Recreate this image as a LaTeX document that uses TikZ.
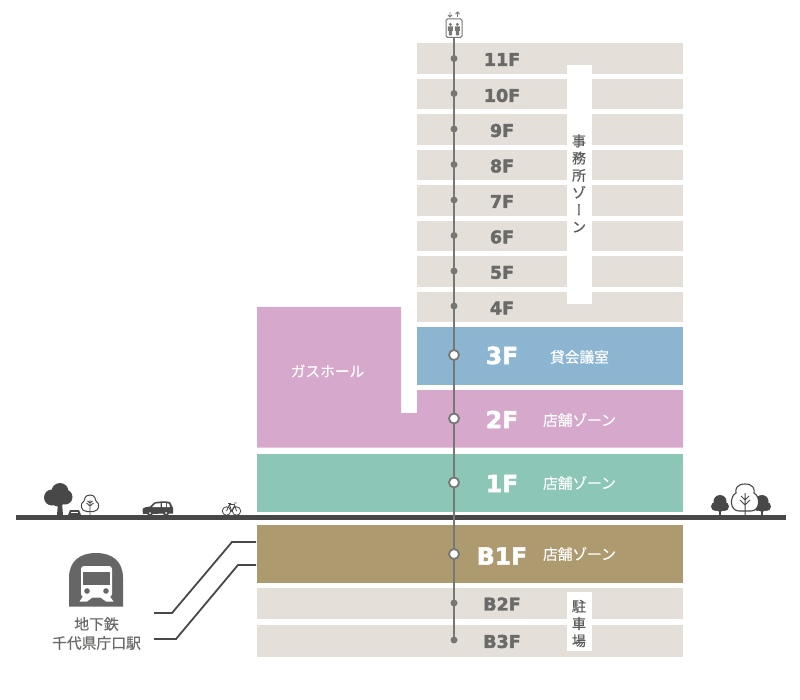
\documentclass[tikz,border=0pt]{standalone}
\usepackage{fontspec}
\usetikzlibrary{arrows.meta}
\setmainfont{Noto Sans CJK JP}[FakeBold=0.4]
\newfontfamily\floorfont{DejaVu Sans Bold}[FakeBold=2.2]
\newfontfamily\vertfont{Noto Sans CJK JP}[RawFeature=+vert,FakeBold=0.4]
\definecolor{beige}{HTML}{E5DFD9}
\definecolor{bluefl}{HTML}{8CB5D2}
\definecolor{pinkfl}{HTML}{D6A9CC}
\definecolor{tealfl}{HTML}{8BC6B7}
\definecolor{brownfl}{HTML}{AD9A6F}
\definecolor{liftgray}{HTML}{777775}
\definecolor{txtgray}{HTML}{6A6A68}
\definecolor{iconink}{HTML}{484848}
\definecolor{trainink}{HTML}{666666}
\tikzset{
  band/.style={rectangle,inner sep=0pt,minimum width=266pt,fill=#1,anchor=north west},
  whiteband/.style={rectangle,inner sep=0pt,minimum width=25pt,fill=white,anchor=north west},
  smallstop/.style={circle,inner sep=0pt,minimum size=7pt,fill=liftgray},
  bigstop/.style={circle,inner sep=0pt,minimum size=10pt,fill=white,draw=liftgray,line width=1.8pt},
  smallfl/.style={text=txtgray,font=\floorfont\fontsize{17.5}{19}\selectfont,inner sep=0pt},
  bigfl/.style={text=white,font=\floorfont\fontsize{23.5}{25}\selectfont,inner sep=0pt},
  zonew/.style={text=white,font=\fontsize{14.7}{16}\selectfont,inner sep=0pt},
  zoneg/.style={text=txtgray!85!black,align=center,font=\fontsize{14}{17.2}\selectfont,inner sep=0pt},
  stationtxt/.style={text=txtgray,align=center,font=\fontsize{14.8}{19}\selectfont,inner sep=0pt},
  conn/.style={draw=iconink,line width=1.8pt},
}
\begin{document}
\begin{tikzpicture}[x=1pt,y=-1pt]
\useasboundingbox (0,0) rectangle (800,700);
\fill[white] (0,0) rectangle (800,700);
% upper floors
\node[band=beige,minimum height=30.5pt] (b11) at (417,43) {};
\node[band=beige,minimum height=30.5pt] (b10) at (417,78.6) {};
\node[band=beige,minimum height=30.5pt] (b9) at (417,114.1) {};
\node[band=beige,minimum height=30.5pt] (b8) at (417,149.7) {};
\node[band=beige,minimum height=30.5pt] (b7) at (417,185.2) {};
\node[band=beige,minimum height=30.5pt] (b6) at (417,220.8) {};
\node[band=beige,minimum height=30.5pt] (b5) at (417,256.3) {};
\node[band=beige,minimum height=30.5pt] (b4) at (417,291.8) {};
\node[band=bluefl,minimum height=57.5pt] (b3) at (417,327) {};
\fill[pinkfl] (257,307) -- (401,307) -- (401,413) -- (417,413) -- (417,390) -- (683,390) -- (683,447.5) -- (257,447.5) -- cycle;
\node[band=tealfl,minimum height=58pt,minimum width=426pt] (b1) at (257,454) {};
\node[band=brownfl,minimum height=58pt,minimum width=426pt] (bb1) at (257,525) {};
\node[band=beige,minimum height=31pt,minimum width=426pt] (bb2) at (257,588) {};
\node[band=beige,minimum height=32pt,minimum width=426pt] (bb3) at (257,625) {};
\node[whiteband,minimum height=239pt] (office) at (567,65) {};
\node[whiteband,minimum height=59pt] (parking) at (567,592) {};
% ground
\fill[iconink] (16,515) rectangle (786,520);
% lift
\node[rectangle,draw=liftgray,fill=white,line width=1pt,rounded corners=1.5pt,minimum width=16pt,minimum height=18.5pt,inner sep=0pt] (lift) at (454,28.2) {};
\coordinate (liftend) at (454,640);
\draw[liftgray,line width=2.2pt] (lift.south) -- (liftend);
\foreach \xx in {450.4,457.4}{
  \fill[liftgray] (\xx,24.4) circle (1.6);
  \fill[liftgray] (\xx-2.6,26.5) -- (\xx+2.6,26.5) -- (\xx+2.4,31) -- (\xx+1.6,31) -- (\xx+1.6,35.5) -- (\xx-1.6,35.5) -- (\xx-1.6,31) -- (\xx-2.4,31) -- cycle;
}
\draw[liftgray,line width=.8pt] (450,12) -- (450,17) (448,15) -- (450,17) -- (452,15);
\draw[liftgray,line width=.8pt] (457.5,17) -- (457.5,12) (455.5,14) -- (457.5,12) -- (459.5,14);
% stops
\node[smallstop] (s11) at (454,58.5) {};
\node[smallstop] (s10) at (454,93.5) {};
\node[smallstop] (s9) at (454,129) {};
\node[smallstop] (s8) at (454,164.5) {};
\node[smallstop] (s7) at (454,200) {};
\node[smallstop] (s6) at (454,235.5) {};
\node[smallstop] (s5) at (454,271) {};
\node[smallstop] (s4) at (454,306) {};
\node[bigstop] (s3) at (454,355) {};
\node[bigstop] (s2) at (454,418.5) {};
\node[bigstop] (s1) at (454,482.5) {};
\node[bigstop] (sb1) at (454,554) {};
\node[smallstop] (sb2) at (454,603) {};
\node[smallstop] (sb3) at (454,640) {};
% floor labels
\node[smallfl] (t11) at (502,59.5) {11F};
\node[smallfl] (t10) at (502,95.5) {10F};
\node[smallfl] (t9) at (502,130.5) {9F};
\node[smallfl] (t8) at (502,166) {8F};
\node[smallfl] (t7) at (502,201.5) {7F};
\node[smallfl] (t6) at (502,237) {6F};
\node[smallfl] (t5) at (502,272.5) {5F};
\node[smallfl] (t4) at (502,308) {4F};
\node[bigfl] (t3) at (502,355.5) {3F};
\node[bigfl] (t2) at (502,419.5) {2F};
\node[bigfl] (t1) at (502,483.5) {1F};
\node[bigfl] (tb1) at (502,556) {B1F};
\node[smallfl] (tb2) at (502,604) {B2F};
\node[smallfl] (tb3) at (502,641.5) {B3F};
% zone labels
\node[zonew] (z3) at (579.5,357) {貸会議室};
\node[zonew] (z2) at (579.5,420) {店舗ゾーン};
\node[zonew] (z1) at (579.5,483) {店舗ゾーン};
\node[zonew] (zb1) at (579.5,554) {店舗ゾーン};
\node[zonew] (zhall) at (327.5,371) {ガスホール};
\node[zoneg] (zoffice) at (579,183.5) {事\\務\\所\\ゾ\\{\vertfont ー}\\ン};
\node[zoneg] (zpark) at (579,623.5) {駐\\車\\場};
% station
\node[stationtxt] (station) at (96.5,633.5) {地下鉄\\千代県庁口駅};
\fill[trainink] (69,606.5) -- (69,578) .. controls (69,561) and (80,553) .. (96,553) .. controls (112,553) and (123,561) .. (123,578) -- (123,606.5) -- cycle;
\fill[white,rounded corners=3pt] (81,566) rectangle (112,597);
\fill[white] (84,595) -- (109,595) -- (113.5,601.5) -- (106,601.5) -- (100.5,597.5) -- (92.5,597.5) -- (87,601.5) -- (79.5,601.5) -- cycle;
\fill[trainink] (83,572) rectangle (109.5,585);
\fill[trainink] (87,591) circle (2.8) (106,591) circle (2.8);
\coordinate (e1) at (154,613);
\coordinate (e2) at (154,639);
\coordinate (e1a) at (172,613);
\coordinate (e1b) at (232,542);
\coordinate (e2a) at (176,639);
\coordinate (e2b) at (238,565);
\coordinate (w1) at (256,542);
\coordinate (w2) at (256,565);
\draw[conn] (e1) -- (e1a) -- (e1b) -- (w1);
\draw[conn] (e2) -- (e2a) -- (e2b) -- (w2);
% left trees
\fill[iconink] (58,503) -- (62,503) -- (63,515) -- (57,515) -- cycle;
\fill[iconink] (60,491.5) circle (8.5) (52,497.5) circle (8) (65,497) circle (7.5) (58,499) circle (7.5);
\fill[iconink] (68,515) -- (70,510) -- (79,510) -- (81,515) -- cycle;
\fill[white] (71,511.5) rectangle (78,512.6);
\draw[iconink,line width=1pt,fill=white] (90,495) .. controls (84,495) and (85,500) .. (84,501) .. controls (80,503) and (80,511) .. (86.5,511.5) -- (93.5,511.5) .. controls (100,511) and (100,503) .. (96,501) .. controls (95,500) and (96,495) .. (90,495) -- cycle;
\draw[iconink,line width=.9pt] (90,515) -- (90,500) (90,506) -- (86.5,503) (90,506) -- (93.5,503) (90,503) -- (87.5,501) (90,503) -- (92.5,501);
% car
\fill[iconink] (142.5,510) .. controls (142.5,507) and (147,507) .. (150,506.5) -- (154,502.5) .. controls (160,501) and (166,501) .. (170,502) -- (173,508) -- (173,513.5) -- (143,514) -- cycle;
\fill[white] (152,507) -- (155.5,503.6) -- (160.5,503.2) -- (160.5,507) -- cycle (162,503.2) -- (166,503.2) -- (166,507) -- (162,507) -- cycle (167,503.4) -- (169,503.6) -- (170,507) -- (167,507) -- cycle;
\fill[iconink] (150,513) circle (3) (166,513) circle (3);
\fill[white] (150,513) circle (1) (166,513) circle (1);
% bike
\draw[iconink,line width=.8pt] (226.5,511) circle (4.2) (236.5,511) circle (4.2);
\draw[iconink,line width=.8pt] (226.5,511) -- (229.5,504.5) -- (234.5,504.5) -- (236.5,511) (229.5,504.5) -- (231.5,511) -- (234.5,506) (228,503.5) -- (231,503.5) (234,503) -- (236.5,503);
% right trees
\fill[iconink] (719,508) rectangle (721,515);
\fill[iconink] (720,501.5) circle (6.5) (715.5,506.5) circle (4.5) (724.5,506.5) circle (4.5) (720,507) circle (5);
\fill[iconink] (761,508) rectangle (763,515);
\fill[iconink] (762,501.5) circle (6.5) (757.5,506.5) circle (4.5) (766.5,506.5) circle (4.5) (762,507) circle (5);
\draw[iconink,line width=1.1pt,fill=white] (745,484) .. controls (737,484) and (735,489) .. (736,493) .. controls (729,497) and (730,511) .. (739,511) -- (751,511) .. controls (760,511) and (761,497) .. (754,493) .. controls (755,489) and (753,484) .. (745,484) -- cycle;
\draw[iconink,line width=1pt] (745,515) -- (745,493) (745,505) -- (740,500) (745,505) -- (750,500) (745,500) -- (741,496) (745,500) -- (749,496);
\end{tikzpicture}
\end{document}
